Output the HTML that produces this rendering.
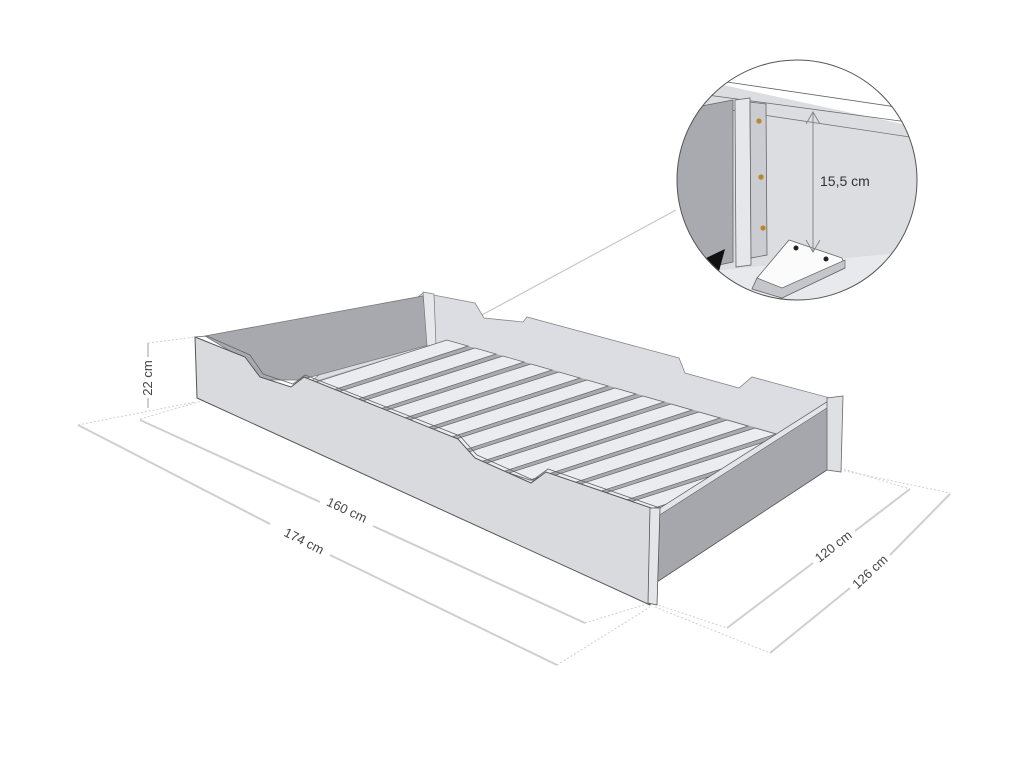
<!DOCTYPE html>
<html><head><meta charset="utf-8"><style>
html,body{margin:0;padding:0;background:#fff;}
svg{display:block;font-family:"Liberation Sans",sans-serif;}
</style></head><body>
<svg width="1024" height="768" viewBox="0 0 1024 768" xmlns="http://www.w3.org/2000/svg">
<defs>
<clipPath id="cc"><circle cx="797" cy="180" r="120"/></clipPath>
<clipPath id="sl"><polygon points="200,330 830,330 830,400 657,510 200,510"/></clipPath>
</defs>
<g stroke="#cfcfcf" fill="none">
<g stroke-dasharray="2,2" stroke-width="1">
<line x1="78" y1="425" x2="195" y2="402"/>
<line x1="140" y1="419" x2="205" y2="400"/>
<line x1="148" y1="343" x2="195" y2="337"/>
<line x1="585" y1="623" x2="650" y2="603"/>
<line x1="557" y1="665" x2="650" y2="607"/>
<line x1="655" y1="604" x2="727" y2="628"/>
<line x1="655" y1="607" x2="770" y2="653"/>
<line x1="840" y1="468" x2="910" y2="489"/>
<line x1="840" y1="470" x2="950" y2="493"/>
</g>
<g stroke-width="2">
<line x1="140" y1="420" x2="320" y2="502"/>
<line x1="373" y1="526" x2="585" y2="623"/>
<line x1="78" y1="425" x2="270" y2="524"/>
<line x1="330" y1="555" x2="557" y2="665"/>
<line x1="148" y1="343" x2="148" y2="357"/>
<line x1="148" y1="398" x2="148" y2="408"/>
<line x1="727" y1="628" x2="813" y2="563"/>
<line x1="855" y1="531" x2="910" y2="489"/>
<line x1="770" y1="653" x2="850" y2="588"/>
<line x1="890" y1="555" x2="950" y2="494"/>
</g>
</g>
<g fill="#444" font-size="13">
<text transform="translate(345,514) rotate(25)" text-anchor="middle">160 cm</text>
<text transform="translate(302,545) rotate(27)" text-anchor="middle">174 cm</text>
<text transform="translate(152,378) rotate(-90)" text-anchor="middle">22 cm</text>
<text transform="translate(836,550) rotate(-38)" text-anchor="middle">120 cm</text>
<text transform="translate(873,575) rotate(-43)" text-anchor="middle">126 cm</text>
</g>
<line x1="432" y1="342" x2="676" y2="210" stroke="#c8c8c8" stroke-width="1.2"/>
<polygon points="423,293 475,303 484,318 523,322 527,317 679,358 685,373 739,388 752,377 830,398 830,440 650,500 300,390" fill="#dcdde2" stroke="#888" stroke-width="0.8"/>
<polygon points="205,336 423,296 429,345 300,380 262,380 245,360" fill="#a8a9af" stroke="#777" stroke-width="0.8"/>
<polygon points="423,292 434,294 436,345 427,346" fill="#e6e7ea" stroke="#777" stroke-width="0.7"/>
<g clip-path="url(#sl)">
<polygon points="280,392 447,340 800,440 640,520" fill="#a9aab0"/>
<g fill="#ebecef" stroke="#666" stroke-width="0.7">
<polygon points="447,340 257,401 278,408 468,346"/>
<polygon points="475,348 285,409 306,416 496,354"/>
<polygon points="503,356 313,417 334,424 524,362"/>
<polygon points="531,364 341,425 362,432 552,370"/>
<polygon points="559,372 369,433 390,440 580,378"/>
<polygon points="587,380 397,441 418,448 608,386"/>
<polygon points="615,388 425,449 446,456 636,394"/>
<polygon points="643,396 453,457 474,464 664,402"/>
<polygon points="671,404 481,465 502,472 692,410"/>
<polygon points="699,412 509,473 530,480 720,418"/>
<polygon points="727,420 537,481 558,488 748,426"/>
<polygon points="755,428 565,489 586,496 776,434"/>
<polygon points="783,436 593,497 614,504 804,442"/>
<polygon points="811,444 621,505 642,512 832,450"/>
</g>
</g>
<polygon points="195,337 245,357 260,377 291,387 304,377 458,439 475,458 531,483 546,472 657,510 650,605 197,398" fill="#d9dade" stroke="#555" stroke-width="1"/>
<polyline points="195,337 207,336 250,355 263,374 293,384 305,375 460,436 477,455 533,480 548,469 660,508" fill="none" stroke="#666" stroke-width="0.8"/>
<polygon points="657,510 830,400 830,468 657,582" fill="#a6a7ad" stroke="#555" stroke-width="0.8"/>
<polygon points="657,510 830,400 830,406 658,516" fill="#e4e5e8" stroke="#666" stroke-width="0.6"/>
<polygon points="650,508 660,508 657,605 648,603" fill="#e4e5e8" stroke="#555" stroke-width="0.8"/>
<polygon points="827,398 843,396 841,472 827,470" fill="#dfe0e4" stroke="#666" stroke-width="0.8"/>
<g clip-path="url(#cc)">
<rect x="670" y="55" width="260" height="260" fill="#dcdde1"/>
<polygon points="670,60 930,60 930,130 723,85 670,96" fill="#fff"/>
<line x1="670" y1="90" x2="930" y2="125" stroke="#666" stroke-width="0.8"/>
<line x1="700" y1="78" x2="930" y2="112" stroke="#666" stroke-width="0.8"/>
<line x1="690" y1="104" x2="930" y2="140" stroke="#777" stroke-width="0.8"/>
<polygon points="670,112 733,100 733,262 670,275" fill="#a9aab0" stroke="#666" stroke-width="0.8"/>
<polygon points="735,100 750,98 751,265 736,267" fill="#e6e7ea" stroke="#666" stroke-width="0.8"/>
<polygon points="750,102 766,104 767,255 751,258" fill="#cbccd1" stroke="#666" stroke-width="0.8"/>
<circle cx="759" cy="121" r="2.6" fill="#b8862b"/>
<circle cx="761" cy="177" r="2.6" fill="#b8862b"/>
<circle cx="763" cy="228" r="2.6" fill="#b8862b"/>
<polygon points="670,275 930,250 930,320 670,320" fill="#e8e9ec"/>
<polygon points="789,240 842,258 845,268 782,298 752,289 757,278" fill="#fbfbfc" stroke="#666" stroke-width="0.8"/>
<polygon points="757,278 782,288 845,260 845,268 782,298 752,289" fill="#c5c6cb" stroke="#666" stroke-width="0.7"/>
<circle cx="796" cy="248" r="2.5" fill="#222"/>
<circle cx="826" cy="259" r="2.5" fill="#222"/>
<polygon points="704,259 725,249 718,275" fill="#111"/>
<line x1="813" y1="112" x2="813" y2="252" stroke="#888" stroke-width="1"/>
<polyline points="806,124 813,112 820,124" fill="none" stroke="#888" stroke-width="1"/>
<polyline points="806,240 813,252 820,240" fill="none" stroke="#888" stroke-width="1"/>
<text x="820" y="186" font-size="14" fill="#333">15,5 cm</text>
</g>
<circle cx="797" cy="180" r="120" fill="none" stroke="#555" stroke-width="1"/>
</svg>
</body></html>
